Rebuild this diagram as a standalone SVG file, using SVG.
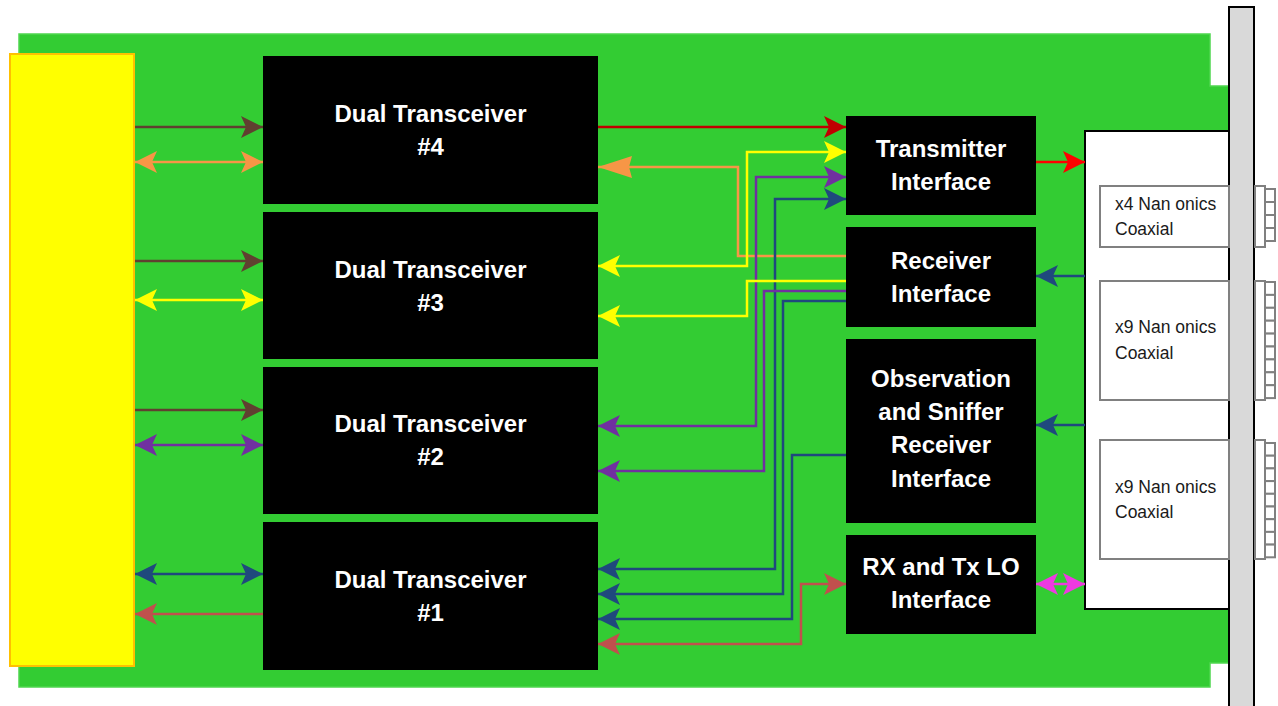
<svg xmlns="http://www.w3.org/2000/svg" width="1278" height="706" viewBox="0 0 1278 706">
<defs>
<style>
.blk{fill:#000000;}
.t{font-family:"Liberation Sans",Arial,sans-serif;font-weight:bold;font-size:24px;fill:#FFFFFF;text-anchor:middle;}
.s{font-family:"Liberation Sans",Arial,sans-serif;font-size:17.5px;fill:#1a1a1a;}
.ln{fill:none;stroke-width:2.5;}
.pin{fill:#FFFFFF;stroke:#808080;stroke-width:2;}
</style>
<marker id="aBr" viewBox="0 0 22 22" refX="22" refY="11" markerWidth="22" markerHeight="22" markerUnits="userSpaceOnUse" orient="auto-start-reverse"><path d="M0,0 L22,11 L0,22 L5,11 z" fill="#604030"/></marker>
<marker id="aOr" viewBox="0 0 22 22" refX="22" refY="11" markerWidth="22" markerHeight="22" markerUnits="userSpaceOnUse" orient="auto-start-reverse"><path d="M0,0 L22,11 L0,22 L5,11 z" fill="#F79646"/></marker>
<marker id="aOrL" viewBox="0 0 34 22" refX="34" refY="11" markerWidth="34" markerHeight="22" markerUnits="userSpaceOnUse" orient="auto-start-reverse"><path d="M0,0 L34,11 L0,22 L3,11 z" fill="#F79646"/></marker>
<marker id="aYe" viewBox="0 0 22 22" refX="22" refY="11" markerWidth="22" markerHeight="22" markerUnits="userSpaceOnUse" orient="auto-start-reverse"><path d="M0,0 L22,11 L0,22 L5,11 z" fill="#FFFF00"/></marker>
<marker id="aPu" viewBox="0 0 22 22" refX="22" refY="11" markerWidth="22" markerHeight="22" markerUnits="userSpaceOnUse" orient="auto-start-reverse"><path d="M0,0 L22,11 L0,22 L5,11 z" fill="#7030A0"/></marker>
<marker id="aBl" viewBox="0 0 22 22" refX="22" refY="11" markerWidth="22" markerHeight="22" markerUnits="userSpaceOnUse" orient="auto-start-reverse"><path d="M0,0 L22,11 L0,22 L5,11 z" fill="#1F497D"/></marker>
<marker id="aRd" viewBox="0 0 22 22" refX="22" refY="11" markerWidth="22" markerHeight="22" markerUnits="userSpaceOnUse" orient="auto-start-reverse"><path d="M0,0 L22,11 L0,22 L5,11 z" fill="#C0504D"/></marker>
<marker id="aDr" viewBox="0 0 22 22" refX="22" refY="11" markerWidth="22" markerHeight="22" markerUnits="userSpaceOnUse" orient="auto-start-reverse"><path d="M0,0 L22,11 L0,22 L5,11 z" fill="#C00000"/></marker>
<marker id="aBr2" viewBox="0 0 22 22" refX="22" refY="11" markerWidth="22" markerHeight="22" markerUnits="userSpaceOnUse" orient="auto-start-reverse"><path d="M0,0 L22,11 L0,22 L5,11 z" fill="#FF0000"/></marker>
<marker id="aMg" viewBox="0 0 22 22" refX="22" refY="11" markerWidth="22" markerHeight="22" markerUnits="userSpaceOnUse" orient="auto-start-reverse"><path d="M0,0 L22,11 L0,22 L5,11 z" fill="#EE3AE0"/></marker>
</defs>
<rect x="0" y="0" width="1278" height="706" fill="#FFFFFF"/>
<g id="board">
<polygon points="19,34 1210,34 1210,86 1232,86 1232,663 1210,663 1210,687 19,687" fill="#33CC33" stroke="#4FD64F" stroke-width="1.5"/>
</g>
<g id="panel">
<rect x="1085" y="131" width="146" height="478" fill="#FFFFFF" stroke="#000000" stroke-width="2"/>
<rect x="1229" y="7" width="25" height="710" fill="#D9D9D9" stroke="#000000" stroke-width="2"/>
</g>
<g id="conn1">
<rect x="1100" y="186" width="129" height="61" fill="#FFFFFF" stroke="#808080" stroke-width="2"/>
<text class="s" x="1115" y="210">x4 Nan onics</text>
<text class="s" x="1115" y="235">Coaxial</text>
<rect class="pin" x="1255" y="186" width="10" height="61"/>
<rect class="pin" x="1265" y="189" width="10" height="13"/>
<rect class="pin" x="1265" y="202" width="10" height="13"/>
<rect class="pin" x="1265" y="215" width="10" height="13"/>
<rect class="pin" x="1265" y="228" width="10" height="13"/>
</g>
<g id="conn2">
<rect x="1100" y="281" width="129" height="119" fill="#FFFFFF" stroke="#808080" stroke-width="2"/>
<text class="s" x="1115" y="333">x9 Nan onics</text>
<text class="s" x="1115" y="359">Coaxial</text>
<rect class="pin" x="1255" y="281" width="10" height="119"/>
<rect class="pin" x="1265" y="282" width="10" height="12.9"/>
<rect class="pin" x="1265" y="294.9" width="10" height="12.9"/>
<rect class="pin" x="1265" y="307.8" width="10" height="12.9"/>
<rect class="pin" x="1265" y="320.7" width="10" height="12.9"/>
<rect class="pin" x="1265" y="333.6" width="10" height="12.9"/>
<rect class="pin" x="1265" y="346.5" width="10" height="12.9"/>
<rect class="pin" x="1265" y="359.4" width="10" height="12.9"/>
<rect class="pin" x="1265" y="372.3" width="10" height="12.9"/>
<rect class="pin" x="1265" y="385.2" width="10" height="12.9"/>
</g>
<g id="conn3">
<rect x="1100" y="440" width="129" height="119" fill="#FFFFFF" stroke="#808080" stroke-width="2"/>
<text class="s" x="1115" y="493">x9 Nan onics</text>
<text class="s" x="1115" y="518">Coaxial</text>
<rect class="pin" x="1255" y="440" width="10" height="119"/>
<rect class="pin" x="1265" y="443" width="10" height="12.7"/>
<rect class="pin" x="1265" y="455.7" width="10" height="12.7"/>
<rect class="pin" x="1265" y="468.4" width="10" height="12.7"/>
<rect class="pin" x="1265" y="481.1" width="10" height="12.7"/>
<rect class="pin" x="1265" y="493.8" width="10" height="12.7"/>
<rect class="pin" x="1265" y="506.5" width="10" height="12.7"/>
<rect class="pin" x="1265" y="519.2" width="10" height="12.7"/>
<rect class="pin" x="1265" y="531.9" width="10" height="12.7"/>
<rect class="pin" x="1265" y="544.6" width="10" height="12.7"/>
</g>
<g id="fpga">
<rect x="10" y="54" width="124" height="612" fill="#FFFF00" stroke="#FFC000" stroke-width="2"/>
</g>
<g id="dt4">
<rect class="blk" x="263" y="56" width="335" height="148"/>
<text class="t" x="430.5" y="122">Dual Transceiver</text>
<text class="t" x="430.5" y="155">#4</text>
</g>
<g id="dt3">
<rect class="blk" x="263" y="212" width="335" height="147"/>
<text class="t" x="430.5" y="278">Dual Transceiver</text>
<text class="t" x="430.5" y="311">#3</text>
</g>
<g id="dt2">
<rect class="blk" x="263" y="367" width="335" height="147"/>
<text class="t" x="430.5" y="432">Dual Transceiver</text>
<text class="t" x="430.5" y="465">#2</text>
</g>
<g id="dt1">
<rect class="blk" x="263" y="522" width="335" height="148"/>
<text class="t" x="430.5" y="588">Dual Transceiver</text>
<text class="t" x="430.5" y="621">#1</text>
</g>
<g id="txif">
<rect class="blk" x="846" y="116" width="190" height="99"/>
<text class="t" x="941" y="157">Transmitter</text>
<text class="t" x="941" y="190">Interface</text>
</g>
<g id="rxif">
<rect class="blk" x="846" y="227" width="190" height="100"/>
<text class="t" x="941" y="269">Receiver</text>
<text class="t" x="941" y="302">Interface</text>
</g>
<g id="obsif">
<rect class="blk" x="846" y="339" width="190" height="184"/>
<text class="t" x="941" y="387">Observation</text>
<text class="t" x="941" y="420">and Sniffer</text>
<text class="t" x="941" y="453">Receiver</text>
<text class="t" x="941" y="487">Interface</text>
</g>
<g id="loif">
<rect class="blk" x="846" y="535" width="190" height="99"/>
<text class="t" x="941" y="575">RX and Tx LO</text>
<text class="t" x="941" y="608">Interface</text>
</g>
<g id="connectors">
<path class="ln" d="M135,127 H263" stroke="#604030" marker-end="url(#aBr)"/>
<path class="ln" d="M135,162 H263" stroke="#F79646" marker-start="url(#aOr)" marker-end="url(#aOr)"/>
<path class="ln" d="M135,261 H263" stroke="#604030" marker-end="url(#aBr)"/>
<path class="ln" d="M135,300 H263" stroke="#FFFF00" marker-start="url(#aYe)" marker-end="url(#aYe)"/>
<path class="ln" d="M135,410 H263" stroke="#604030" marker-end="url(#aBr)"/>
<path class="ln" d="M135,445 H263" stroke="#7030A0" marker-start="url(#aPu)" marker-end="url(#aPu)"/>
<path class="ln" d="M135,574 H263" stroke="#1F497D" marker-start="url(#aBl)" marker-end="url(#aBl)"/>
<path class="ln" d="M263,614 H135" stroke="#C0504D" marker-end="url(#aRd)"/>
<path class="ln" d="M598,127 H846" stroke="#C00000" marker-end="url(#aDr)"/>
<path class="ln" d="M846,256 H738 V167 H598" stroke="#F79646" marker-end="url(#aOrL)"/>
<path class="ln" d="M846,152 H747 V266 H598" stroke="#FFFF00" marker-start="url(#aYe)" marker-end="url(#aYe)"/>
<path class="ln" d="M846,177 H756 V426 H598" stroke="#7030A0" marker-start="url(#aPu)" marker-end="url(#aPu)"/>
<path class="ln" d="M846,199 H775 V569 H598" stroke="#1F497D" marker-start="url(#aBl)" marker-end="url(#aBl)"/>
<path class="ln" d="M846,281 H747 V316 H598" stroke="#FFFF00" marker-end="url(#aYe)"/>
<path class="ln" d="M846,291 H764 V471 H598" stroke="#7030A0" marker-end="url(#aPu)"/>
<path class="ln" d="M846,301 H783 V594 H598" stroke="#1F497D" marker-end="url(#aBl)"/>
<path class="ln" d="M846,455 H792 V619 H598" stroke="#1F497D" marker-end="url(#aBl)"/>
<path class="ln" d="M598,644 H801 V584 H846" stroke="#C0504D" marker-start="url(#aRd)" marker-end="url(#aRd)"/>
<path class="ln" d="M1036,162 H1085" stroke="#FF0000" marker-end="url(#aBr2)"/>
<path class="ln" d="M1085,276 H1036" stroke="#1F497D" marker-end="url(#aBl)"/>
<path class="ln" d="M1085,425 H1036" stroke="#1F497D" marker-end="url(#aBl)"/>
<path class="ln" d="M1036,584 H1085" stroke="#EE3AE0" marker-start="url(#aMg)" marker-end="url(#aMg)"/>
</g>
</svg>
